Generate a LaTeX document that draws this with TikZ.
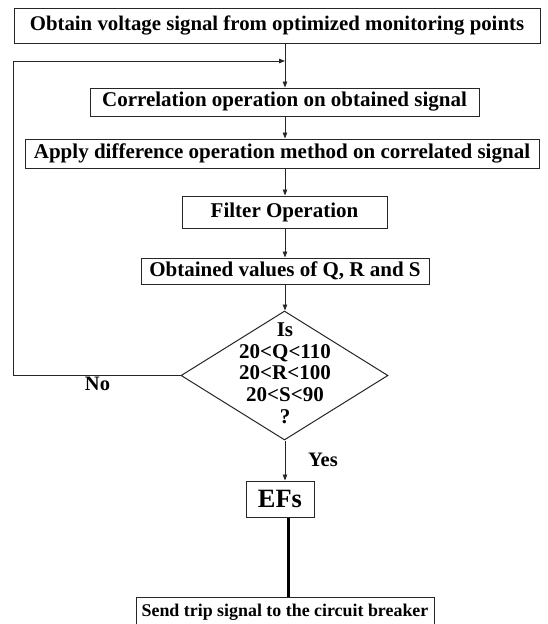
\documentclass[tikz,border=0pt]{standalone}
\usepackage{fontspec}
\setmainfont{Liberation Serif}
\usetikzlibrary{shapes.geometric,arrows.meta}
\begin{document}
\begin{tikzpicture}[x=1pt,y=-1pt,
  box/.style={draw=black!85, line width=1pt, inner sep=0pt, align=center,
    font=\bfseries\fontsize{21}{25}\selectfont},
  arr/.style={draw=black!85, line width=0.9pt, -{Triangle[length=6pt,width=4.5pt]}},
  lbl/.style={font=\bfseries\fontsize{20.5}{24}\selectfont, inner sep=0pt}]
\useasboundingbox (0,0) rectangle (547,624);
\fill[white] (0,0) rectangle (547,624);
\coordinate (sp) at (285,0);
\node[box, minimum width=526, minimum height=35, font=\bfseries\fontsize{20.8}{25}\selectfont] (top) at (277,25.5) {Obtain voltage signal from optimized monitoring points};
\node[box, minimum width=389, minimum height=28] (corr) at (284.5,102) {Correlation operation on obtained signal};
\node[box, minimum width=514, minimum height=29] (diff) at (282,153.5) {Apply difference operation method on correlated signal};
\node[box, minimum width=205, minimum height=32] (filt) at (284.5,212) {Filter Operation};
\node[box, minimum width=288, minimum height=26] (qrs) at (285,271) {Obtained values of Q, R and S};
\node[draw=black!85, line width=1pt, diamond, minimum width=207, minimum height=129, inner sep=0pt] (dec) at (284.5,375.5) {};
\node[align=center, inner sep=0pt, font=\bfseries\fontsize{21}{21.7}\selectfont] (dect) at (285,373) {Is\\20<Q<110\\20<R<100\\20<S<90\\?};
\node[box, minimum width=68, minimum height=36, font=\bfseries\fontsize{26.4}{30}\selectfont] (ef) at (280,499) {EFs};
\node[box, minimum width=298, minimum height=30, font=\bfseries\fontsize{17.9}{21}\selectfont] (trip) at (285,612) {Send trip signal to the circuit breaker};
\node[lbl] (no) at (97.5,384) {No};
\node[lbl] (yes) at (323,460) {Yes};
\coordinate (lt) at (13,61);
\coordinate (jn) at (285,61);
% spine arrows
\draw[arr] (top.south -| sp) -- (corr.north -| sp);
\draw[arr] (corr.south -| sp) -- (diff.north -| sp);
\draw[arr] (diff.south -| sp) -- (filt.north -| sp);
\draw[arr] (filt.south -| sp) -- (qrs.north -| sp);
\draw[arr] (qrs.south -| sp) -- (dec.north -| sp);
\draw[arr] (dec.south -| sp) -- (ef.north -| sp);
% feedback
\draw[arr] (dec.west) -| (lt) -- (jn);
% thick to trip
\coordinate (tk) at (288,0);
\draw[black, line width=3pt] (ef.south -| tk) -- (trip.north -| tk);
\end{tikzpicture}
\end{document}
